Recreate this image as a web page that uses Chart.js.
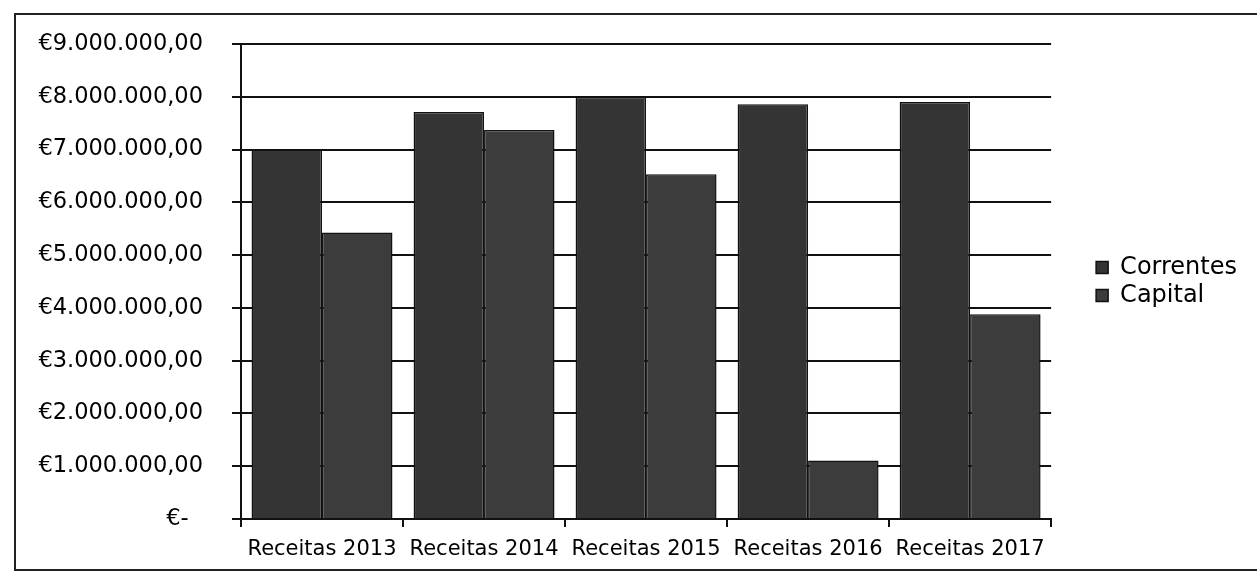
<!DOCTYPE html>
<html>
<head>
<meta charset="utf-8">
<script src="https://cdn.jsdelivr.net/npm/chart.js@4/dist/chart.umd.min.js"></script>
<style>
  html, body { margin: 0; padding: 0; background: #fff; overflow: hidden; }
  #wrap { position: relative; width: 1257px; height: 572px; }
  #frame { position: absolute; left: 14px; top: 13px; width: 1300px; height: 554px;
           border: 2px solid #222; pointer-events: none; }
  canvas { position: absolute; left: 0; top: 0; }
</style>
</head>
<body>
<div id="wrap">
  <canvas id="receitasChart" width="1257" height="572"></canvas>
  <div id="frame"></div>
</div>
<script>
const categories = ['Receitas 2013', 'Receitas 2014', 'Receitas 2015', 'Receitas 2016', 'Receitas 2017'];
const correntes  = [7000000, 7710000, 8000000, 7860000, 7900000];
const capital    = [5430000, 7370000, 6530000, 1110000, 3880000];
const yTicks     = [0, 1000000, 2000000, 3000000, 4000000, 5000000, 6000000, 7000000, 8000000, 9000000];

// formato contabilístico: €9.000.000,00 / €-
function euro(v) {
  if (v === 0) return '€-  ';
  const s = Math.round(v).toString().replace(/\B(?=(\d{3})+(?!\d))/g, '.');
  return '€' + s + ',00';
}

function initChart() {
  const ctx = document.getElementById('receitasChart').getContext('2d');
  new Chart(ctx, {
    type: 'bar',
    data: {
      labels: categories,
      datasets: [
        { label: 'Correntes', data: correntes, backgroundColor: '#343434',
          borderColor: '#111', borderWidth: 1.5 },
        { label: 'Capital', data: capital, backgroundColor: '#3c3c3c',
          borderColor: '#111', borderWidth: 1.5 }
      ]
    },
    options: {
      responsive: false,
      animation: false,
      devicePixelRatio: 1,
      layout: { padding: { top: 44, right: 10, bottom: 0, left: 0 } },
      datasets: { bar: { categoryPercentage: 0.87, barPercentage: 1.0 } },
      plugins: {
        tooltip: { enabled: false },
        legend: {
          position: 'right',
          fullSize: false,
          labels: {
            color: '#000',
            font: { family: 'DejaVu Sans', size: 24 },
            boxWidth: 12, boxHeight: 12, padding: 4
          }
        }
      },
      scales: {
        x: {
          grid: { drawOnChartArea: false, drawTicks: true, tickLength: 8, color: '#111', lineWidth: 2, offset: true },
          border: { display: true, color: '#111', width: 2 },
          ticks: { color: '#000', font: { family: 'DejaVu Sans', size: 21 }, padding: 10, maxRotation: 0, autoSkip: false },
          afterFit(s) { s.height = 53; }
        },
        y: {
          min: 0, max: 9000000,
          afterBuildTicks(s) { s.ticks = yTicks.map(v => ({ value: v })); },
          grid: { color: '#111', lineWidth: 2, tickLength: 9 },
          border: { display: true, color: '#111', width: 2 },
          ticks: { color: '#000', font: { family: 'DejaVu Sans', size: 22.5 }, padding: 29, callback: v => euro(v) },
          afterFit(s) { s.width = 241; }
        },
        pad: {
          type: 'linear', position: 'right', display: true,
          grid: { display: false }, border: { display: false }, ticks: { display: false },
          afterFit(s) { s.width = 41; }
        }
      }
    }
  });
}

document.addEventListener('DOMContentLoaded', initChart);
</script>
</body>
</html>
